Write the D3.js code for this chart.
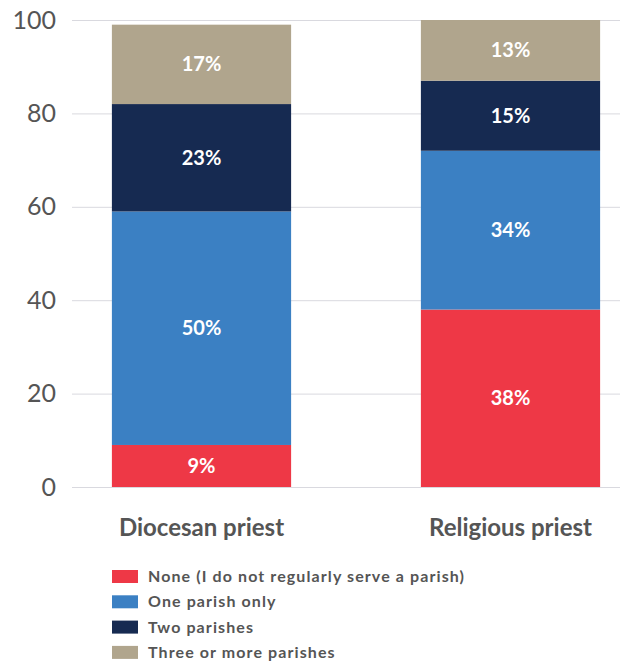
<!DOCTYPE html>
<html>
<head>
<meta charset="utf-8">
<script src="https://cdn.jsdelivr.net/npm/d3@7"></script>
<style>
  html, body { margin: 0; padding: 0; background: #fff; }
  svg { display: block; }
</style>
</head>
<body>
<svg id="chart" width="621" height="665"></svg>
<script>
// Share of priests by number of parishes served
const categories = ["Diocesan priest", "Religious priest"];
const seriesNames = ["None (I do not regularly serve a parish)", "One parish only", "Two parishes", "Three or more parishes"];
const noneValues = [9, 38];
const oneParishValues = [50, 34];
const twoParishValues = [23, 15];
const threePlusValues = [17, 13];
const yTicks = [0, 20, 40, 60, 80, 100];
const colors = ["#EE3846", "#3B80C3", "#162A51", "#B0A58D"];

const seriesValues = [noneValues, oneParishValues, twoParishValues, threePlusValues];
const rows = categories.map((c, i) => {
  const r = { category: c };
  seriesNames.forEach((s, j) => { r[s] = seriesValues[j][i]; });
  return r;
});

const svg = d3.select("#chart");
const x = d3.scaleBand().domain(categories).range([47, 665]).paddingInner(0.42).paddingOuter(0.21);
const y = d3.scaleLinear().domain([0, 100]).range([487, 20]);

// Gridlines and y tick labels
const yAxis = svg.append("g")
  .attr("transform", "translate(72,0)")
  .call(d3.axisLeft(y).tickValues(yTicks).tickSize(-548).tickPadding(16));
yAxis.select(".domain").remove();
yAxis.selectAll(".tick line").attr("stroke", "#d9d9df").attr("stroke-width", 1);
yAxis.selectAll(".tick text")
  .attr("fill", "#555")
  .style("font-family", "Lato, sans-serif")
  .style("font-size", "25px");

// Stacked bars
const stack = d3.stack().keys(seriesNames)(rows);
const layers = svg.append("g").selectAll("g")
  .data(stack).join("g")
  .attr("fill", (d, i) => colors[i]);
layers.selectAll("rect")
  .data(d => d).join("rect")
  .attr("x", d => x(d.data.category))
  .attr("width", x.bandwidth())
  .attr("y", d => y(d[1]))
  .attr("height", d => y(d[0]) - y(d[1]));

// Segment value labels
layers.selectAll("text")
  .data(d => d.map(v => ({ v, key: d.key }))).join("text")
  .attr("x", d => x(d.v.data.category) + x.bandwidth() / 2)
  .attr("y", d => (y(d.v[0]) + y(d.v[1])) / 2)
  .attr("dy", "0.35em")
  .attr("text-anchor", "middle")
  .attr("fill", "#fff")
  .style("font-family", "Lato, sans-serif")
  .style("font-weight", "700")
  .style("font-size", "20px")
  .text(d => (d.v.data[d.key]) + "%");

// Category labels
svg.append("g").selectAll("text")
  .data(categories).join("text")
  .attr("x", d => x(d) + x.bandwidth() / 2)
  .attr("y", 536)
  .attr("text-anchor", "middle")
  .attr("fill", "#555")
  .style("font-family", "Lato, sans-serif")
  .style("font-weight", "700")
  .style("font-size", "24px")
  .text(d => d);

// Legend
const legend = svg.append("g").attr("transform", "translate(112,570)");
const items = legend.selectAll("g").data(seriesNames).join("g")
  .attr("transform", (d, i) => `translate(0,${i * 25.3})`);
items.append("rect").attr("width", 26).attr("height", 13).attr("fill", (d, i) => colors[i]);
items.append("text")
  .attr("x", 36).attr("y", 6.5).attr("dy", "0.35em")
  .attr("fill", "#555")
  .style("font-family", "Lato, sans-serif")
  .style("font-weight", "700")
  .style("font-size", "16px")
  .style("letter-spacing", "1.1px")
  .text(d => d);
</script>
</body>
</html>
